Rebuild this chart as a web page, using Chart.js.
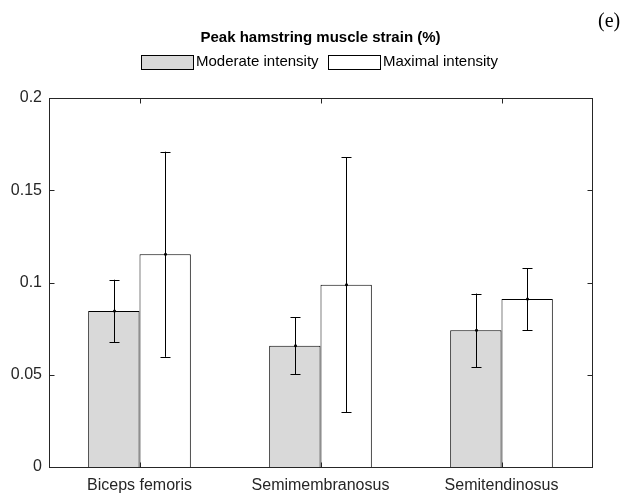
<!DOCTYPE html>
<html>
<head>
<meta charset="utf-8">
<script src="https://cdn.jsdelivr.net/npm/chart.js@4.4.1/dist/chart.umd.min.js"></script>
<style>
  html, body { margin: 0; padding: 0; background: #fff; }
  #wrap { width: 624px; height: 494px; position: relative; }
</style>
</head>
<body>
<div id="wrap"><canvas id="c" width="624" height="494"></canvas></div>
<script>
// ---- data ----
const categories = ['Biceps femoris', 'Semimembranosus', 'Semitendinosus'];
const seriesNames = ['Moderate intensity', 'Maximal intensity'];
const moderateMean = [0.0845, 0.0657, 0.0741];
const moderateErr  = [0.0170, 0.0155, 0.0199];
const maximalMean  = [0.1153, 0.0988, 0.0910];
const maximalErr   = [0.0556, 0.0690, 0.0168];
const yTickValues  = [0, 0.05, 0.1, 0.15, 0.2];
const yTickLabels  = ['0', '0.05', '0.1', '0.15', '0.2'];
const chartTitle   = 'Peak hamstring muscle strain (%)';
const panelLabel   = '(e)';

const AX = '#262626';
const errs = [moderateErr, maximalErr];

const decorPlugin = {
  id: 'decor',
  afterDatasetsDraw(chart) {
    const ctx = chart.ctx;
    const xs = chart.scales.x, ys = chart.scales.y;
    const a = chart.chartArea;
    ctx.save();
    // error bars
    chart.data.datasets.forEach((ds, di) => {
      const meta = chart.getDatasetMeta(di);
      meta.data.forEach((bar, i) => {
        const m = ds.data[i], e = errs[di][i];
        const x = Math.round(bar.x) + 0.5;
        const yt = ys.getPixelForValue(m + e);
        const yb = ys.getPixelForValue(m - e);
        ctx.strokeStyle = '#000';
        ctx.lineWidth = 1;
        ctx.beginPath();
        ctx.moveTo(x, yt); ctx.lineTo(x, yb);
        ctx.moveTo(x - 5, Math.round(yt) + 0.5); ctx.lineTo(x + 5, Math.round(yt) + 0.5);
        ctx.moveTo(x - 5, Math.round(yb) + 0.5); ctx.lineTo(x + 5, Math.round(yb) + 0.5);
        ctx.stroke();
        ctx.fillStyle = '#000';
        ctx.beginPath();
        ctx.arc(x, ys.getPixelForValue(m), 1.5, 0, Math.PI * 2);
        ctx.fill();
      });
    });
    // axes box
    ctx.strokeStyle = AX;
    ctx.lineWidth = 1;
    const L = Math.round(a.left) + 0.5, R = Math.round(a.right) + 0.5;
    const T = Math.round(a.top) + 0.5, B = Math.round(a.bottom) + 0.5;
    ctx.strokeRect(L, T, R - L, B - T);
    // inward ticks
    ctx.beginPath();
    yTickValues.forEach(v => {
      const y = Math.round(ys.getPixelForValue(v)) + 0.5;
      ctx.moveTo(L, y); ctx.lineTo(L + 5, y);
      ctx.moveTo(R, y); ctx.lineTo(R - 5, y);
    });
    categories.forEach((c, i) => {
      const x = Math.round(xs.getPixelForValue(i)) + 0.5;
      ctx.moveTo(x, T); ctx.lineTo(x, T + 5);
      ctx.moveTo(x, B); ctx.lineTo(x, B - 5);
    });
    ctx.stroke();
    ctx.restore();
  },
  afterDraw(chart) {
    const ctx = chart.ctx;
    const a = chart.chartArea;
    ctx.save();
    // title
    ctx.fillStyle = '#000';
    ctx.font = 'bold 15px "Liberation Sans", Arial, sans-serif';
    ctx.textAlign = 'center';
    ctx.textBaseline = 'middle';
    ctx.fillText(chartTitle, (a.left + a.right) / 2, 37.5);
    // legend
    const fills = chart.data.datasets.map(d => d.backgroundColor);
    const boxes = [[141.5, 193.5, 196], [328.5, 380.5, 383]];
    ctx.font = '15px "Liberation Sans", Arial, sans-serif';
    ctx.textAlign = 'left';
    boxes.forEach((b, i) => {
      ctx.fillStyle = fills[i];
      ctx.fillRect(b[0], 55.5, b[1] - b[0], 14);
      ctx.strokeStyle = '#000';
      ctx.lineWidth = 1;
      ctx.strokeRect(b[0], 55.5, b[1] - b[0], 14);
      ctx.fillStyle = '#000';
      ctx.fillText(seriesNames[i], b[2], 62);
    });
    // panel label
    ctx.font = '20px "Liberation Serif", "Times New Roman", serif';
    ctx.textAlign = 'left';
    ctx.fillText(panelLabel, 598, 22);
    ctx.restore();
  }
};

new Chart(document.getElementById('c'), {
  type: 'bar',
  data: {
    labels: categories,
    datasets: [
      { label: seriesNames[0], data: moderateMean, backgroundColor: '#d9d9d9',
        borderColor: '#000', borderWidth: 1, borderSkipped: 'start',
        categoryPercentage: 0.567, barPercentage: 1.0 },
      { label: seriesNames[1], data: maximalMean, backgroundColor: '#ffffff',
        borderColor: '#000', borderWidth: 1, borderSkipped: 'start',
        categoryPercentage: 0.567, barPercentage: 1.0 }
    ]
  },
  options: {
    responsive: false,
    animation: false,
    devicePixelRatio: 1,
    layout: { padding: { top: 98, right: 32, left: 0, bottom: 0 } },
    plugins: { legend: { display: false }, title: { display: false }, tooltip: { enabled: false } },
    scales: {
      x: {
        type: 'category',
        grid: { display: false, drawTicks: false },
        border: { display: false },
        ticks: { color: AX, padding: 9, font: { size: 16, family: '"Liberation Sans", Arial, sans-serif' }, maxRotation: 0 },
        afterFit(s) { s.height = 27; }
      },
      y: {
        min: 0, max: 0.2,
        grid: { display: false, drawTicks: false },
        border: { display: false },
        afterBuildTicks(s) { s.ticks = yTickValues.map(v => ({ value: v })); },
        ticks: {
          color: AX, padding: 7,
          font: { size: 16, family: '"Liberation Sans", Arial, sans-serif' },
          callback: (v) => { const k = yTickValues.findIndex(t => Math.abs(t - v) < 1e-9); return k >= 0 ? yTickLabels[k] : ''; }
        },
        afterFit(s) { s.width = 49; }
      }
    }
  },
  plugins: [decorPlugin]
});
</script>
</body>
</html>
